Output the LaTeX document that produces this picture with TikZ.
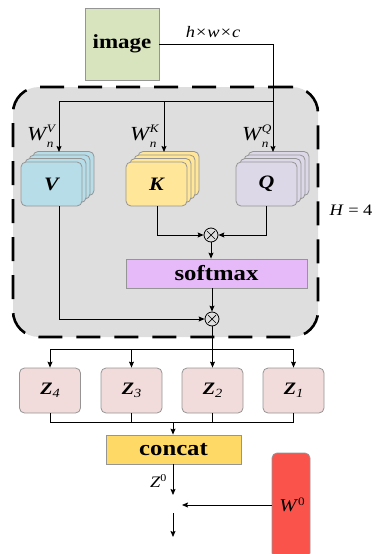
\documentclass[tikz,border=0pt]{standalone}
\usepackage{fontspec}
\setmainfont[FakeStretch=1.15]{Liberation Serif}
\usetikzlibrary{arrows.meta}
\definecolor{imgfill}{HTML}{D7E4BD}
\definecolor{boxgray}{HTML}{DEDEDE}
\definecolor{vfill}{HTML}{B7DDE8}
\definecolor{kfill}{HTML}{FFE699}
\definecolor{qfill}{HTML}{DDD8E8}
\definecolor{smfill}{HTML}{E6B9F8}
\definecolor{zfill}{HTML}{F2DCDB}
\definecolor{catfill}{HTML}{FFD966}
\definecolor{wfill}{HTML}{F9534B}
\definecolor{edge}{HTML}{959595}
\newcommand{\wlab}[1]{{\fontsize{20}{20}\selectfont\itshape W}\kern0.5pt\rlap{\raisebox{-7pt}{\fontsize{11.5}{11.5}\selectfont\itshape n}}\raisebox{7.5pt}{\fontsize{11.5}{11.5}\selectfont\itshape #1}}
\tikzset{
  conn/.style={line width=0.8pt},
  arr/.style={conn,-{Stealth[length=6pt,width=5pt,inset=1pt]}},
  plainbox/.style={draw=edge,line width=0.8pt,inner sep=0pt},
  roundbox/.style={plainbox,rounded corners=5pt},
  otimes/.style={draw,line width=0.8pt,circle,minimum size=14pt,inner sep=0pt,
    path picture={\draw[line width=0.7pt] (path picture bounding box.south west)+(3.2pt,3.2pt) -- ++(10.8pt,10.8pt);
                  \draw[line width=0.7pt] (path picture bounding box.north west)+(3.2pt,-3.2pt) -- ++(10.8pt,-10.8pt);}},
  bigtxt/.style={font=\fontsize{21.5}{21.5}\selectfont\bfseries},
}
% a stack of four sheets: three behind, one in front (the named node)
\newcommand{\sheetstack}[5]{%
  \foreach \i in {3,2,1}{
    \draw[draw=edge,line width=0.8pt,fill=#4,rounded corners=5pt]
      ({#2-30.5+4*\i},{#3-22-3.5*\i}) rectangle ({#2+30.5+4*\i},{#3+22-3.5*\i});
  }
  \node[roundbox,fill=#4,minimum width=61pt,minimum height=44pt,
        font=\fontsize{19}{19}\selectfont\bfseries\itshape] (#1) at (#2,#3) {#5};
}
\begin{document}
\begin{tikzpicture}[x=1pt,y=-1pt]
\useasboundingbox (0,0) rectangle (375,554);

% input
\node[plainbox,fill=imgfill,minimum width=74pt,minimum height=72pt,
      font=\fontsize{20}{20}\selectfont\bfseries] (img) at (122,44) {image};
\node[font=\fontsize{16}{16}\selectfont\itshape] (dims) at (213,32) {h×w×c};

% multi-head block
\node[draw=black,fill=boxgray,line width=2.6pt,dash pattern=on 24pt off 14pt,
      rounded corners=26pt,minimum width=305pt,minimum height=250pt] (heads) at (165.5,212) {};
\node[font=\fontsize{16}{16}\selectfont] (hnum) at (351,210) {\textit{H} = 4};

\sheetstack{V}{51.5}{184}{vfill}{V}
\sheetstack{K}{156.5}{184}{kfill}{K}
\sheetstack{Q}{266.5}{184}{qfill}{Q}

\node[anchor=base west,inner sep=0pt] (wv) at (27,140) {\wlab{V}};
\node[anchor=base west,inner sep=0pt] (wk) at (130,140) {\wlab{K}};
\node[anchor=base west,inner sep=0pt] (wq) at (242,140) {\wlab{Q}};

\coordinate (split) at (273,101);
\coordinate (vtop) at (59,152);
\coordinate (ktop) at (164,152);
\coordinate (qtop) at (273,152);
\draw[conn] (img.east) -| (split);
\draw[arr] (split) -- (qtop);
\draw[arr] (split) -- (59,101) -- (vtop);
\draw[arr] (164,101) -- (ktop);

\node[otimes] (m1) at (211,235) {};
\node[plainbox,fill=smfill,minimum width=181pt,minimum height=29pt,bigtxt] (sm) at (216.5,273.5) {softmax};
\node[otimes] (m2) at (212,319) {};

\draw[arr] (K.south -| 157,0) |- (m1.west);
\draw[arr] (Q.south -| 266,0) |- (m1.east);
\draw[arr] (m1.south) -- (m1.south |- sm.north);
\draw[arr] (m2.north |- sm.south) -- (m2.north);
\draw[arr] (V.south -| 59,0) |- (m2.west);

% heads
\foreach \n/\x in {4/50,3/131.5,2/212.5,1/293.5}{
  \node[roundbox,fill=zfill,minimum width=61pt,minimum height=45pt] (z\n) at (\x,390.5)
    {{\fontsize{17.5}{17.5}\selectfont\bfseries\itshape Z}\raisebox{-3.5pt}{\fontsize{12.5}{12.5}\selectfont\itshape\n}};
}
\coordinate (fanout) at (212,349);
\draw[conn] (m2.south) -- (fanout);
\draw[conn] (z4.north |- fanout) -- (z1.north |- fanout);
\foreach \n in {4,3,2,1}{ \draw[arr] (z\n.north |- fanout) -- (z\n.north); }

\node[plainbox,fill=catfill,minimum width=135pt,minimum height=29pt,bigtxt] (cat) at (173.5,449.5) {concat};
\coordinate (fanin) at (173,422);
\foreach \n in {4,3,2,1}{ \draw[conn] (z\n.south) -- (z\n.south |- fanin); }
\draw[conn] (z4.south |- fanin) -- (z1.south |- fanin);
\draw[arr] (fanin) -- (fanin |- cat.north);

% output projection
\node[roundbox,fill=wfill,minimum width=38pt,minimum height=105pt] (w0) at (291,505.5) {};
\node[font=\fontsize{18}{18}\selectfont] (w0lab) at (292,505) {\textit{W}\raisebox{6.5pt}{\fontsize{11.5}{11.5}\selectfont 0}};
\coordinate (zout) at (173,495);
\coordinate (join) at (182,505);
\coordinate (outtop) at (173,513);
\coordinate (out) at (173,537);
\draw[arr] (cat.south -| zout) -- (zout);
\node[font=\fontsize{16}{16}\selectfont,anchor=east] (z0) at (170,481) {\textit{Z}\raisebox{6.5pt}{\fontsize{10.5}{10.5}\selectfont 0}};
\draw[arr] (w0.west |- join) -- (join);
\draw[arr] (outtop) -- (out);
\end{tikzpicture}
\end{document}
